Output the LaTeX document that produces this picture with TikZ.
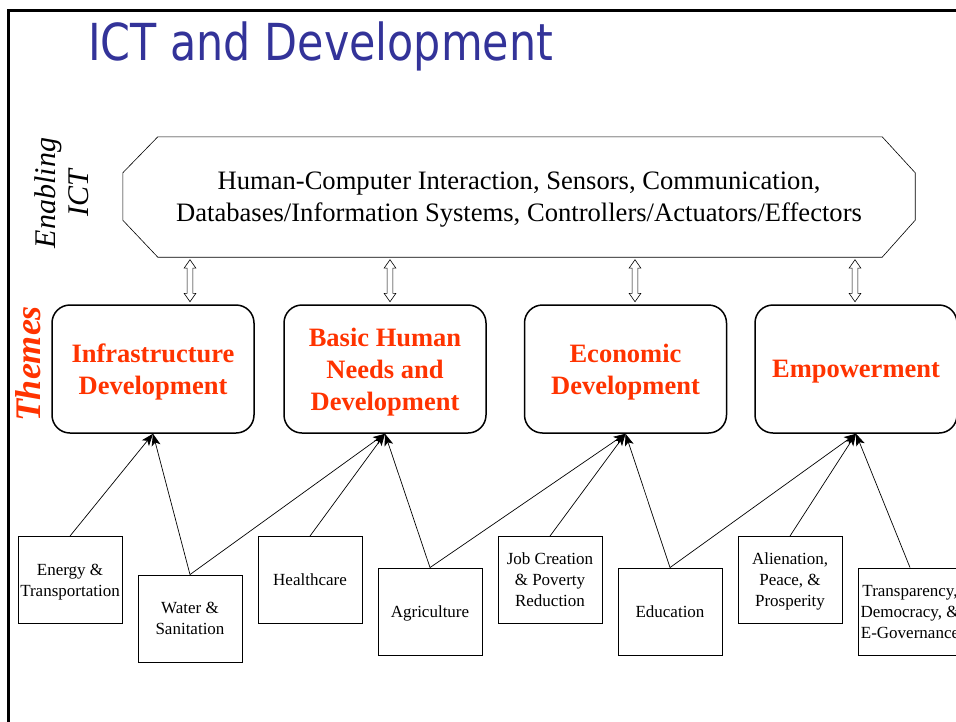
\documentclass[tikz,border=0pt]{standalone}
\usepackage{fontspec}
\setmainfont{Liberation Serif}
\newfontfamily\titlefont{DejaVu Sans}
\usetikzlibrary{arrows.meta,shapes.arrows}
\definecolor{titleblue}{RGB}{51,51,153}
\definecolor{themered}{RGB}{255,51,0}

\begin{document}
\begin{tikzpicture}[x=1pt, y=-1pt,
    theme/.style={draw, line width=1.5pt, rounded corners=18pt, minimum width=202pt,
        minimum height=128pt, align=center, text=themered, text depth=-8pt,
        font=\fontsize{26.5}{32}\selectfont\bfseries},
    area/.style={draw, line width=0.9pt, minimum width=104pt, minimum height=87pt,
        inner sep=0pt, align=center, text depth=0pt, font=\fontsize{17}{21}\selectfont},
    feed/.style={-{Stealth[length=12pt, width=9pt, inset=3pt]}, line width=0.7pt},
    link/.style={draw, double arrow, rotate=90, line width=0.6pt, inner sep=0pt,
        text height=2.6pt, text depth=2.6pt, minimum height=42pt,
        double arrow head extend=3pt, double arrow tip angle=70}]
        \useasboundingbox (0, 0) rectangle (956, 721);
        \clip (0, 0) rectangle (956, 721);
        % slide frame and title
        \draw[line width=3pt] (8, 730) -- (8, 10.5) -- (970, 10.5);
        \node[anchor=base west, inner sep=0pt, text=titleblue] (title) at (88, 60)
            {\scalebox{0.84}[1]{\titlefont\fontsize{51}{60}\selectfont ICT and Development}};
        % enabling layer
        \node[minimum width=792pt, minimum height=120pt, align=center, text depth=-8pt,
            font=\fontsize{26.6}{32}\selectfont] (ict) at (519, 197)
            {Human-Computer Interaction, Sensors, Communication,\\
             Databases/Information Systems, Controllers/Actuators/Effectors};
        \draw[line width=0.6pt] ([xshift=35pt]ict.north west) -- ([xshift=-33pt]ict.north east)
            -- ([yshift=-36pt]ict.north east) -- ([yshift=37pt]ict.south east)
            -- ([xshift=-33pt]ict.south east) -- ([xshift=35pt]ict.south west)
            -- ([yshift=37pt]ict.south west) -- ([yshift=-36pt]ict.north west) -- cycle;
        \node[rotate=90, align=center, font=\fontsize{30}{33}\selectfont\itshape] (enabling)
            at (62, 193) {Enabling\\ICT};
        % themes
        \node[rotate=90, text=themered, font=\fontsize{36}{40}\selectfont\bfseries\itshape]
            (themes) at (28, 364) {Themes};
        \node[theme] (infra) at (153, 369) {Infrastructure\\Development};
        \node[theme] (needs) at (385, 369) {Basic Human\\Needs and\\Development};
        \node[theme] (econ) at (625.5, 369) {Economic\\Development};
        \node[theme] (empower) at (856, 369) {Empowerment};
        \path ([xshift=37pt]infra.north) -- node[link] (link1) {}
            ([xshift=37pt]infra.north |- ict.south);
        \path ([xshift=5pt]needs.north) -- node[link] (link2) {}
            ([xshift=5pt]needs.north |- ict.south);
        \path ([xshift=9.5pt]econ.north) -- node[link] (link3) {}
            ([xshift=9.5pt]econ.north |- ict.south);
        \path ([xshift=-1pt]empower.north) -- node[link] (link4) {}
            ([xshift=-1pt]empower.north |- ict.south);
        % application areas
        \node[area] (energy) at (70, 580) {Energy \&\\Transportation};
        \node[area] (water) at (190, 618.5) {Water \&\\Sanitation};
        \node[area] (health) at (310, 580) {Healthcare};
        \node[area] (agri) at (430, 611.5) {Agriculture};
        \node[area] (jobs) at (550, 580) {Job Creation\\\& Poverty\\Reduction};
        \node[area] (edu) at (670, 611.5) {Education};
        \node[area] (peace) at (790, 580) {Alienation,\\Peace, \&\\Prosperity};
        \node[area] (transp) at (910, 611.5) {Transparency,\\Democracy, \&\\E-Governance};
        \draw[feed] (energy.north) -- (infra.south);
        \draw[feed] (water.north) -- (infra.south);
        \draw[feed] (water.north) -- (needs.south);
        \draw[feed] (health.north) -- (needs.south);
        \draw[feed] (agri.north) -- (needs.south);
        \draw[feed] (agri.north) -- (econ.south);
        \draw[feed] (jobs.north) -- (econ.south);
        \draw[feed] (edu.north) -- (econ.south);
        \draw[feed] (edu.north) -- (empower.south);
        \draw[feed] (peace.north) -- (empower.south);
        \draw[feed] (transp.north) -- (empower.south);
    \end{tikzpicture}
\end{document}
